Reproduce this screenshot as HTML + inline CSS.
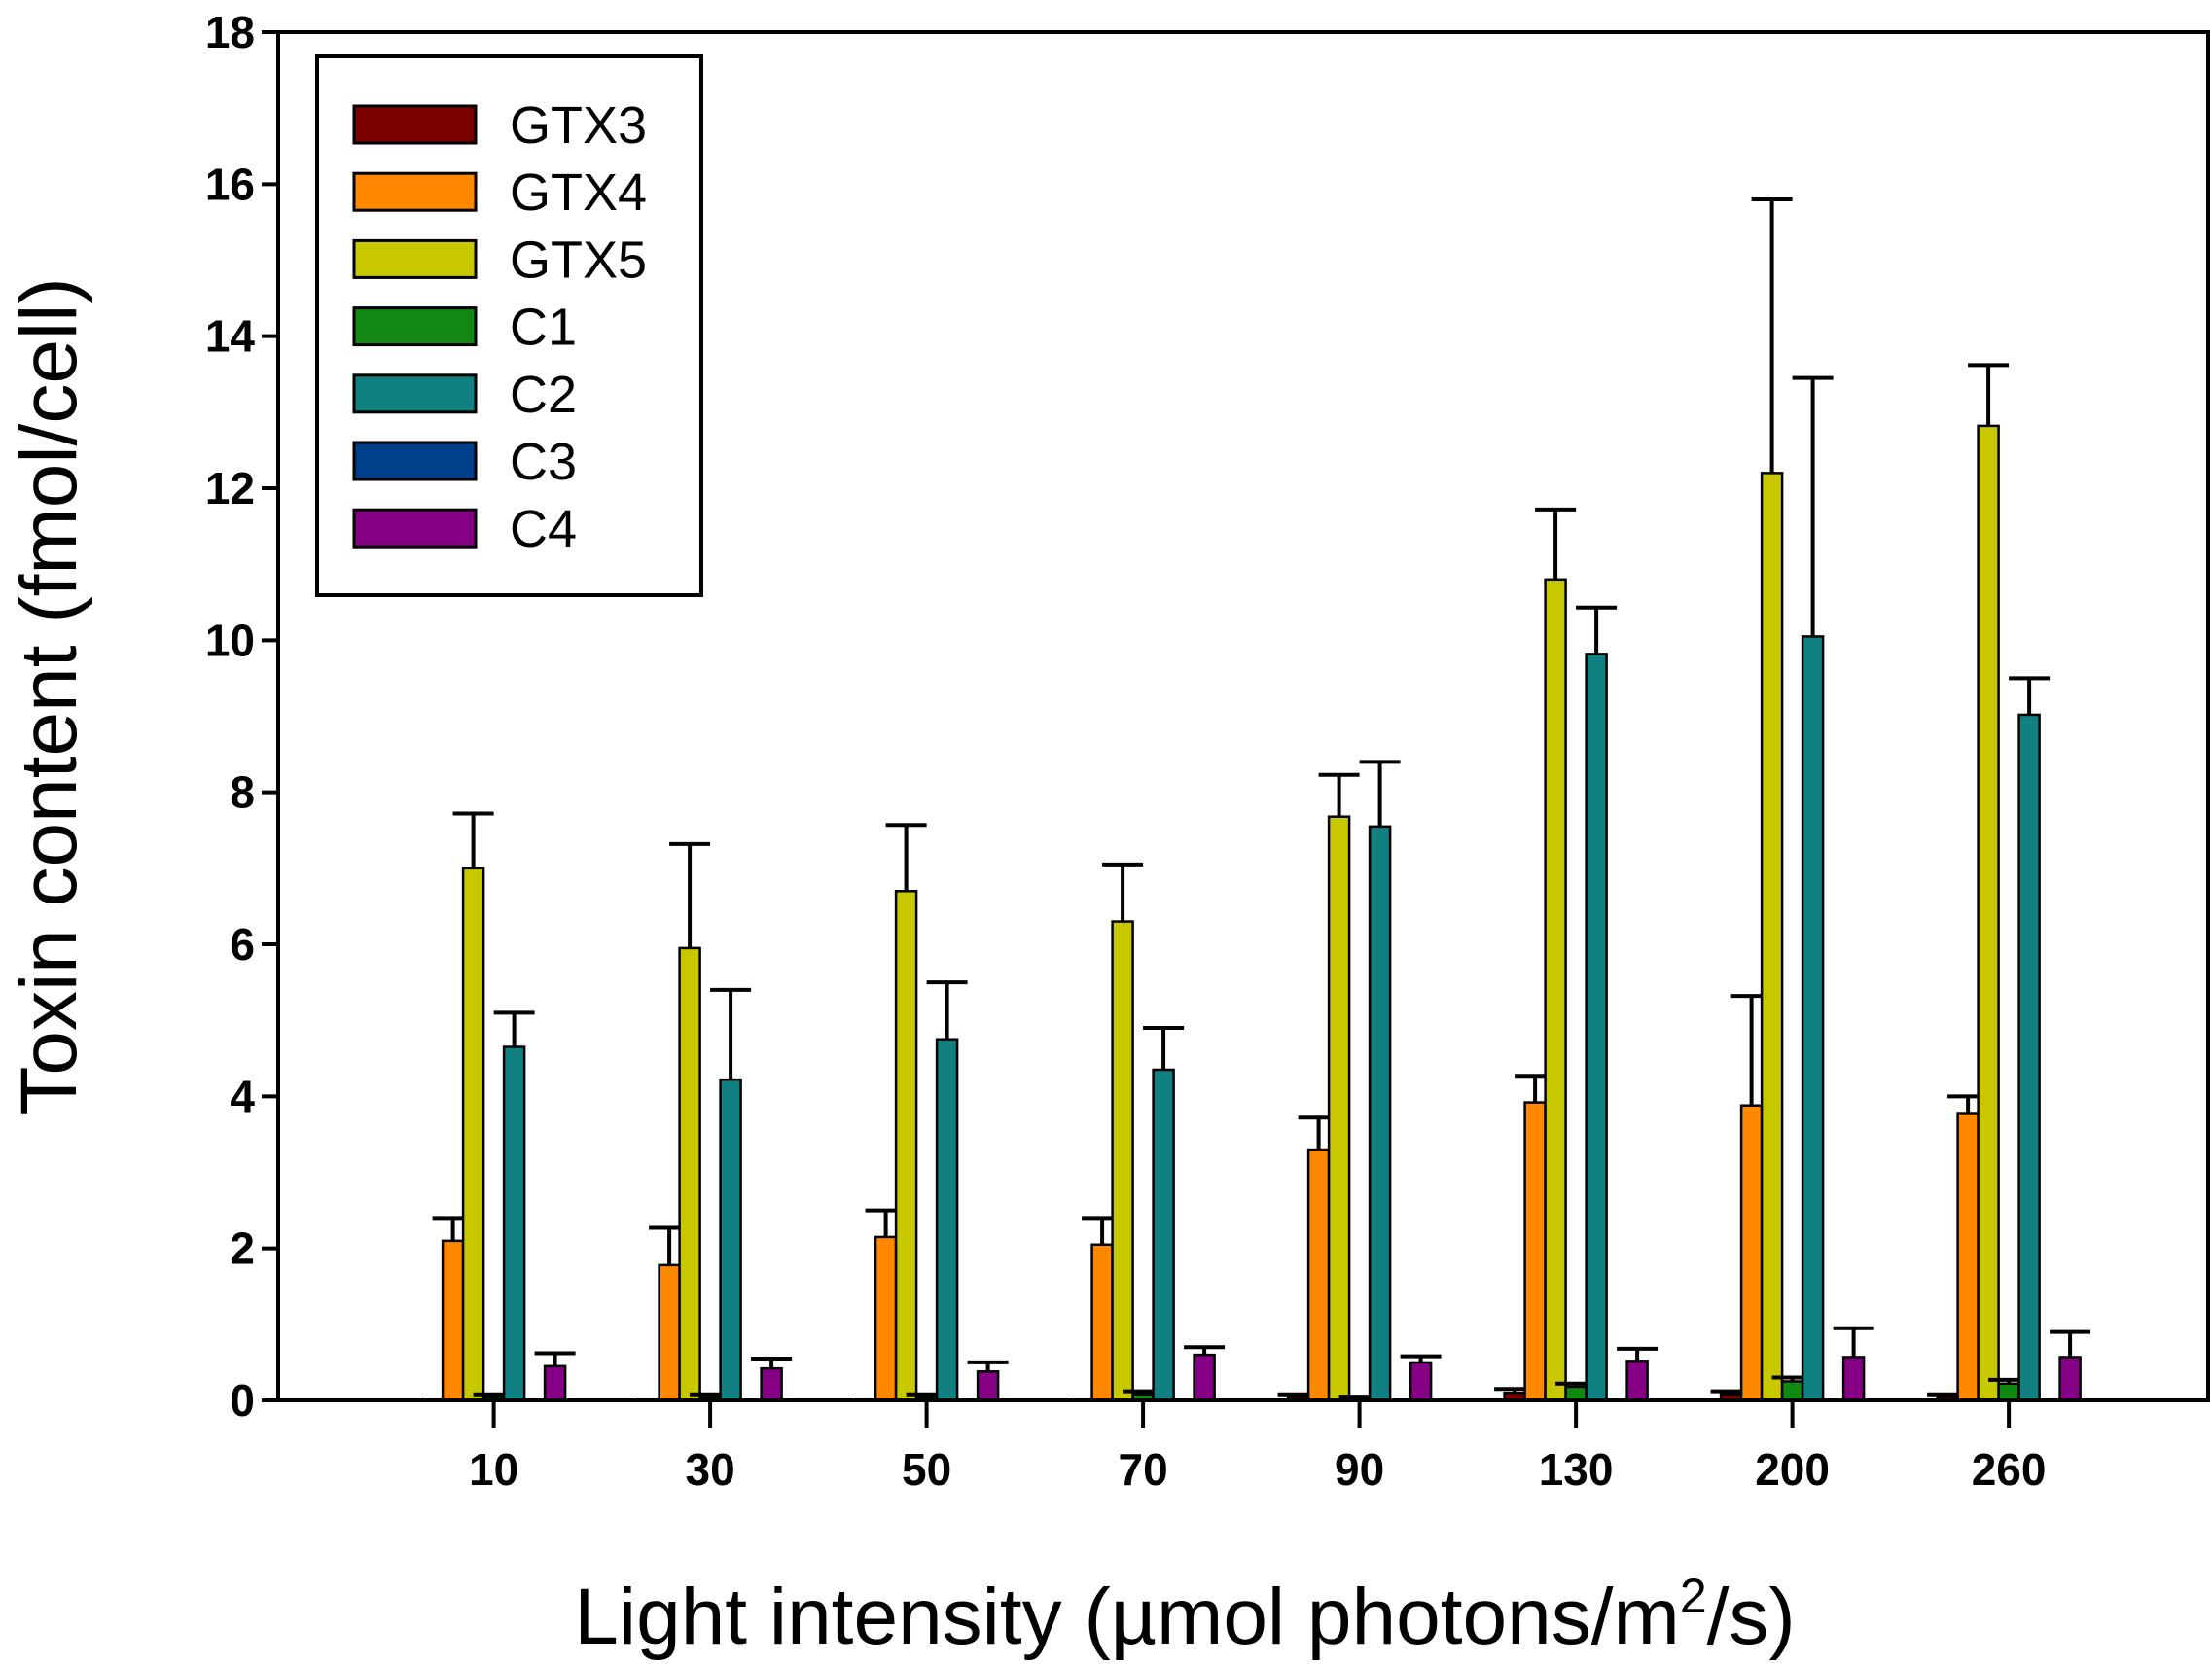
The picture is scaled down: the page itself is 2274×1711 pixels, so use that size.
<!DOCTYPE html>
<html><head><meta charset="utf-8"><style>
html,body{margin:0;padding:0;background:#fff;}
svg{display:block;font-family:"Liberation Sans",Arial,sans-serif;}
</style></head><body>
<svg id="chart" width="2274" height="1711" viewBox="0 0 2274 1711" xmlns="http://www.w3.org/2000/svg">
<g id="plot"></g>
<g id="legend"></g>
<text x="0" y="0" transform="translate(78,716) rotate(-90)" text-anchor="middle" font-size="82" fill="#000">Toxin content (fmol/cell)</text>
<text x="1218" y="1690" text-anchor="middle" font-size="82" fill="#000">Light intensity (µmol photons/m<tspan dy="-32" font-size="50">2</tspan><tspan dy="32">/s)</tspan></text>
</svg>
<script>
const categories = ["10","30","50","70","90","130","200","260"];
const seriesNames = ["GTX3","GTX4","GTX5","C1","C2","C3","C4"];
const seriesColors = ["#7a0000","#ff8800","#c8c800","#118811","#108080","#003f8a","#860086"];
const gtx3 = [0.02,0.02,0.02,0.02,0.05,0.10,0.08,0.05];
const gtx3Err = [0,0,0,0,0.03,0.05,0.04,0.03];
const gtx4 = [2.10,1.78,2.15,2.05,3.30,3.92,3.88,3.78];
const gtx4Err = [0.30,0.49,0.35,0.35,0.42,0.35,1.44,0.22];
const gtx5 = [7.00,5.95,6.70,6.30,7.68,10.80,12.20,12.82];
const gtx5Err = [0.72,1.37,0.87,0.75,0.55,0.92,3.60,0.80];
const c1 = [0.05,0.05,0.05,0.08,0.03,0.18,0.25,0.22];
const c1Err = [0.03,0.03,0.03,0.04,0.02,0.04,0.05,0.05];
const c2 = [4.65,4.22,4.75,4.35,7.55,9.82,10.05,9.02];
const c2Err = [0.45,1.18,0.75,0.55,0.85,0.61,3.40,0.48];
const c3 = [0,0,0,0,0,0,0,0];
const c3Err = [0,0,0,0,0,0,0,0];
const c4 = [0.45,0.42,0.38,0.60,0.50,0.52,0.57,0.57];
const c4Err = [0.17,0.13,0.12,0.10,0.08,0.16,0.38,0.33];
const yTicks = [0,2,4,6,8,10,12,14,16,18];

const values = [gtx3,gtx4,gtx5,c1,c2,c3,c4];
const errs = [gtx3Err,gtx4Err,gtx5Err,c1Err,c2Err,c3Err,c4Err];
const NS = "http://www.w3.org/2000/svg";
const L = 286, R = 2270, T = 33, B = 1440, YMAX = 18;
const y = v => B - v / YMAX * (B - T);
const x0 = 507.6, step = 222.5, bw = 21;
const xc = i => x0 + i * step;
function mk(tag, attrs, parent) {
  const e = document.createElementNS(NS, tag);
  for (const k in attrs) e.setAttribute(k, attrs[k]);
  parent.appendChild(e); return e;
}
const plot = document.getElementById('plot');
categories.forEach((c, i) => {
  const g = mk('g', {}, plot);
  
  
  values.forEach((arr, s) => {
    const v = arr[i];
    const bx = xc(i) + (s - 3.5) * bw;
    const top = y(v);
    const h = Math.max(B - top, 0.5);
    const r = mk('rect', {x: bx, y: B - h, width: bw, height: h, fill: seriesColors[s], stroke: '#000', 'stroke-width': 2.5}, g);
    
    
    const e = errs[s][i];
    if (e > 0) {
      const et = y(v + e);
      const cx = bx + bw / 2;
      const eb = mk('path', {d: `M${cx},${top} V${et} M${cx - 21},${et} H${cx + 21}`, stroke: '#000', 'stroke-width': 4, fill: 'none'}, g);
      
      
    }
  });
  const t = mk('line', {x1: xc(i), x2: xc(i), y1: B, y2: B + 28, stroke: '#000', 'stroke-width': 4}, plot);
  
  
  const lab = mk('text', {x: xc(i), y: 1527, 'text-anchor': 'middle', 'font-size': 46, 'font-weight': 'bold'}, plot);
  lab.textContent = c;
  
  
});
const frame = mk('rect', {x: L, y: T, width: R - L, height: B - T, fill: 'none', stroke: '#000', 'stroke-width': 4}, plot);


yTicks.forEach(v => {
  const t = mk('line', {x1: L - 17, x2: L, y1: y(v), y2: y(v), stroke: '#000', 'stroke-width': 4}, plot);
  
  
  const lab = mk('text', {x: 262, y: y(v) + 16, 'text-anchor': 'end', 'font-size': 46, 'font-weight': 'bold'}, plot);
  lab.textContent = v;
  
  
});
const lg = document.getElementById('legend');
const box = mk('rect', {x: 326, y: 58, width: 395, height: 554, fill: '#fff', stroke: '#000', 'stroke-width': 4}, lg);


seriesNames.forEach((n, s) => {
  const cy = 128 + s * 69.2;
  const sw = mk('rect', {x: 364, y: cy - 19, width: 125, height: 38, fill: seriesColors[s], stroke: '#000', 'stroke-width': 3}, lg);
  
  
  const t = mk('text', {x: 524, y: cy + 19, 'font-size': 54}, lg);
  t.textContent = n;
  
  
});
</script>
</body></html>
